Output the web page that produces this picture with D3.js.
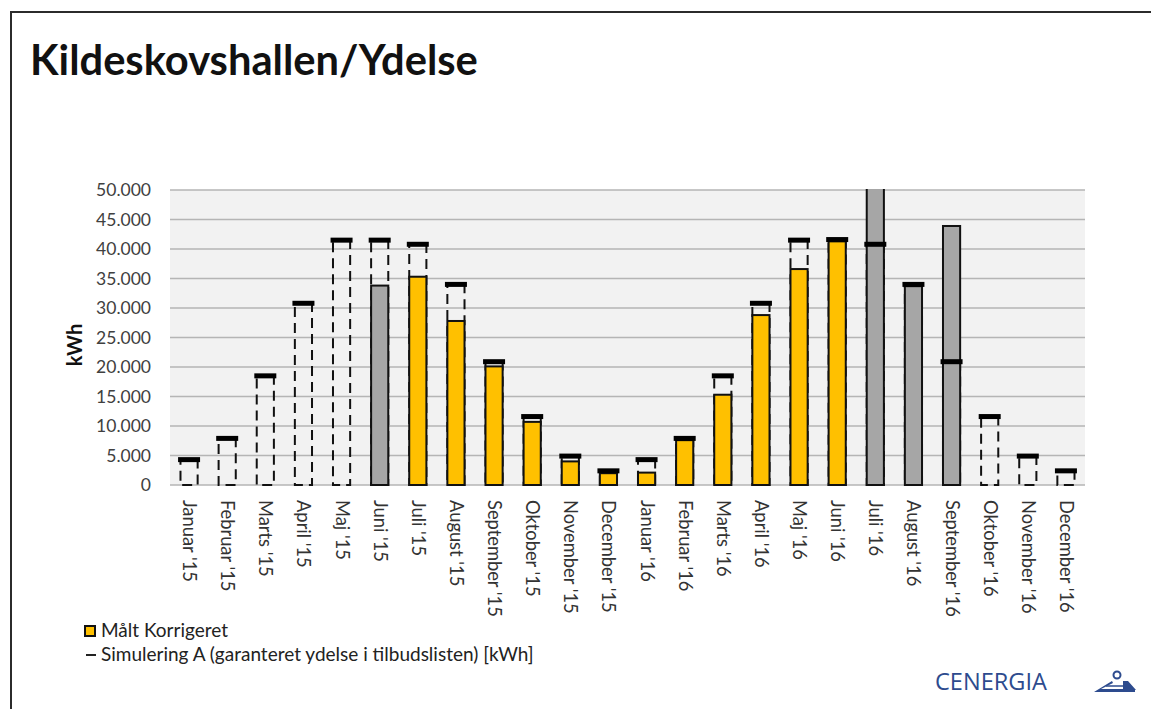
<!DOCTYPE html>
<html>
<head>
<meta charset="utf-8">
<script src="https://cdn.jsdelivr.net/npm/d3@7"></script>
<style>
  body { margin: 0; background: #fff; }
  svg { display: block; font-family: Lato, "Open Sans", sans-serif; }
</style>
</head>
<body>
<script>
// months shown on the x axis
var months = ["Januar '15", "Februar '15", "Marts '15", "April '15", "Maj '15", "Juni '15",
  "Juli '15", "August '15", "September '15", "Oktober '15", "November '15", "December '15",
  "Januar '16", "Februar '16", "Marts '16", "April '16", "Maj '16", "Juni '16",
  "Juli '16", "August '16", "September '16", "Oktober '16", "November '16", "December '16"];

// Målt Korrigeret (null = no measurement)
var measured = [null, null, null, null, null, 33800,
  35300, 27800, 20100, 10700, 4000, 2000,
  2100, 7600, 15300, 28800, 36600, 41300,
  56000, 33700, 43900, null, null, null];

// months where the bar is only estimated (grey)
var estimated = [false, false, false, false, false, true,
  false, false, false, false, false, false,
  false, false, false, false, false, false,
  true, true, true, false, false, false];

// Simulering A (garanteret ydelse i tilbudslisten) [kWh]
var simulation = [4300, 7900, 18500, 30800, 41500, 41500,
  40800, 34000, 20900, 11600, 4900, 2400,
  4300, 7900, 18500, 30800, 41500, 41600,
  40800, 34000, 20900, 11600, 4900, 2400];

var yTicks = [0, 5000, 10000, 15000, 20000, 25000, 30000, 35000, 40000, 45000, 50000];

var width = 1151, height = 709;
var svg = d3.select("body").append("svg")
  .attr("width", width)
  .attr("height", height);

// font size that makes txt as wide as target at the given weight
function fitSize(txt, target, weight, family) {
  var t = svg.append("text")
    .attr("font-size", 20)
    .attr("font-weight", weight || "normal")
    .attr("font-family", family || null)
    .text(txt);
  var w = t.node().getComputedTextLength();
  t.remove();
  return 20 * target / w;
}

// slide frame
svg.append("rect")
  .attr("x", 11).attr("y", 12)
  .attr("width", 1200).attr("height", 760)
  .attr("fill", "none").attr("stroke", "#2b2b2b").attr("stroke-width", 2);

svg.append("text")
  .attr("x", 30).attr("y", 75)
  .attr("font-size", fitSize("Kildeskovshallen/Ydelse", 448, "bold"))
  .attr("font-weight", "bold")
  .attr("fill", "#111")
  .text("Kildeskovshallen/Ydelse");

var mLeft = 170, mRight = 1085, mTop = 190, mBottom = 485;

var x = d3.scaleBand()
  .domain(months)
  .range([mLeft, mRight])
  .paddingInner(0.55)
  .paddingOuter(0.275);

var y = d3.scaleLinear()
  .domain([0, 50000])
  .range([mBottom, mTop]);

var fmt = d3.formatLocale({decimal: ",", thousands: ".", grouping: [3], currency: ["", ""]}).format(",");

svg.append("rect")
  .attr("x", mLeft).attr("y", mTop)
  .attr("width", mRight - mLeft).attr("height", mBottom - mTop)
  .attr("fill", "#f2f2f2");

svg.append("g")
  .selectAll("line")
  .data(yTicks)
  .enter().append("line")
  .attr("x1", mLeft).attr("x2", mRight)
  .attr("y1", function(d){ return y(d); })
  .attr("y2", function(d){ return y(d); })
  .attr("stroke", "#b5b5b5")
  .attr("stroke-width", 1.5);

var tickSize = fitSize("50.000", 55);
var yAxis = svg.append("g")
  .attr("transform", "translate(" + (mLeft - 19) + ",0)")
  .call(d3.axisLeft(y).tickValues(yTicks).tickFormat(fmt).tickSize(0).tickPadding(0));
yAxis.select(".domain").remove();
yAxis.selectAll("text")
  .attr("font-family", "Lato, sans-serif")
  .attr("font-size", tickSize)
  .attr("fill", "#404040");

svg.append("text")
  .attr("transform", "translate(82,345) rotate(-90)")
  .attr("text-anchor", "middle")
  .attr("font-size", 20)
  .attr("font-weight", "bold")
  .attr("fill", "#111")
  .text("kWh");

// x labels, rotated to read downwards
var labelSize = fitSize("Januar '15", 82);
svg.append("g")
  .selectAll("text")
  .data(months)
  .enter().append("text")
  .attr("transform", function(d){
    return "translate(" + (x(d) + x.bandwidth() / 2 - labelSize * 0.33) + ",500) rotate(90)";
  })
  .attr("font-size", labelSize)
  .attr("fill", "#333")
  .text(function(d){ return d; });

svg.append("defs").append("clipPath")
  .attr("id", "plot")
  .append("rect")
  .attr("x", mLeft).attr("y", mTop - 1)
  .attr("width", mRight - mLeft).attr("height", mBottom - mTop + 3);

var plot = svg.append("g").attr("clip-path", "url(#plot)");

// simulation drawn as dashed empty bars
plot.append("g")
  .selectAll("rect")
  .data(simulation)
  .enter().append("rect")
  .attr("x", function(d, i){ return x(months[i]); })
  .attr("y", function(d){ return y(d); })
  .attr("width", x.bandwidth())
  .attr("height", function(d){ return y(0) - y(d); })
  .attr("fill", "none")
  .attr("stroke", "#111")
  .attr("stroke-width", 2)
  .attr("stroke-dasharray", "10,6");

// measured bars
var bars = measured.map(function(v, i){ return {month: months[i], value: v, est: estimated[i]}; })
  .filter(function(d){ return d.value !== null; });

plot.append("g")
  .selectAll("rect")
  .data(bars)
  .enter().append("rect")
  .attr("x", function(d){ return x(d.month); })
  .attr("y", function(d){ return y(d.value); })
  .attr("width", x.bandwidth())
  .attr("height", function(d){ return y(0) - y(d.value); })
  .attr("fill", function(d){ return d.est ? "#a6a6a6" : "#ffc000"; })
  .attr("stroke", "#111")
  .attr("stroke-width", 2);

// simulation dash markers
plot.append("g")
  .selectAll("rect")
  .data(simulation)
  .enter().append("rect")
  .attr("x", function(d, i){ return x(months[i]) + x.bandwidth() / 2 - 11; })
  .attr("y", function(d){ return y(d) - 2.5; })
  .attr("width", 22)
  .attr("height", 5)
  .attr("fill", "#000");

// legend
var legendSize = fitSize("Simulering A (garanteret ydelse i tilbudslisten) [kWh]", 433);
var legend = svg.append("g");
legend.append("rect")
  .attr("x", 85).attr("y", 626)
  .attr("width", 10).attr("height", 10)
  .attr("fill", "#ffc000").attr("stroke", "#111").attr("stroke-width", 2);
legend.append("text")
  .attr("x", 101).attr("y", 637)
  .attr("font-size", legendSize).attr("fill", "#222")
  .text("Målt Korrigeret");
legend.append("line")
  .attr("x1", 86).attr("x2", 96)
  .attr("y1", 655).attr("y2", 655)
  .attr("stroke", "#222").attr("stroke-width", 2);
legend.append("text")
  .attr("x", 101).attr("y", 661)
  .attr("font-size", legendSize).attr("fill", "#222")
  .text("Simulering A (garanteret ydelse i tilbudslisten) [kWh]");

// logo
svg.append("text")
  .attr("x", 935).attr("y", 690)
  .attr("font-family", "Open Sans, sans-serif")
  .attr("font-size", fitSize("CENERGIA", 112, "normal", "Open Sans, sans-serif"))
  .attr("fill", "#2d4b8e")
  .text("CENERGIA");

svg.append("path")
  .attr("d", "M1094,692 L1112,681 L1113,683 L1101,689 L1135,689 L1135,692 Z M1123,681 L1128,681 L1136,690 L1123,690 Z")
  .attr("fill", "#2d4b8e");
svg.append("line")
  .attr("x1", 1106).attr("x2", 1124)
  .attr("y1", 686).attr("y2", 686)
  .attr("stroke", "#2d4b8e").attr("stroke-width", 1.5);
svg.append("circle")
  .attr("cx", 1117).attr("cy", 675).attr("r", 3.5)
  .attr("fill", "none").attr("stroke", "#2d4b8e").attr("stroke-width", 2);
</script>
</body>
</html>
